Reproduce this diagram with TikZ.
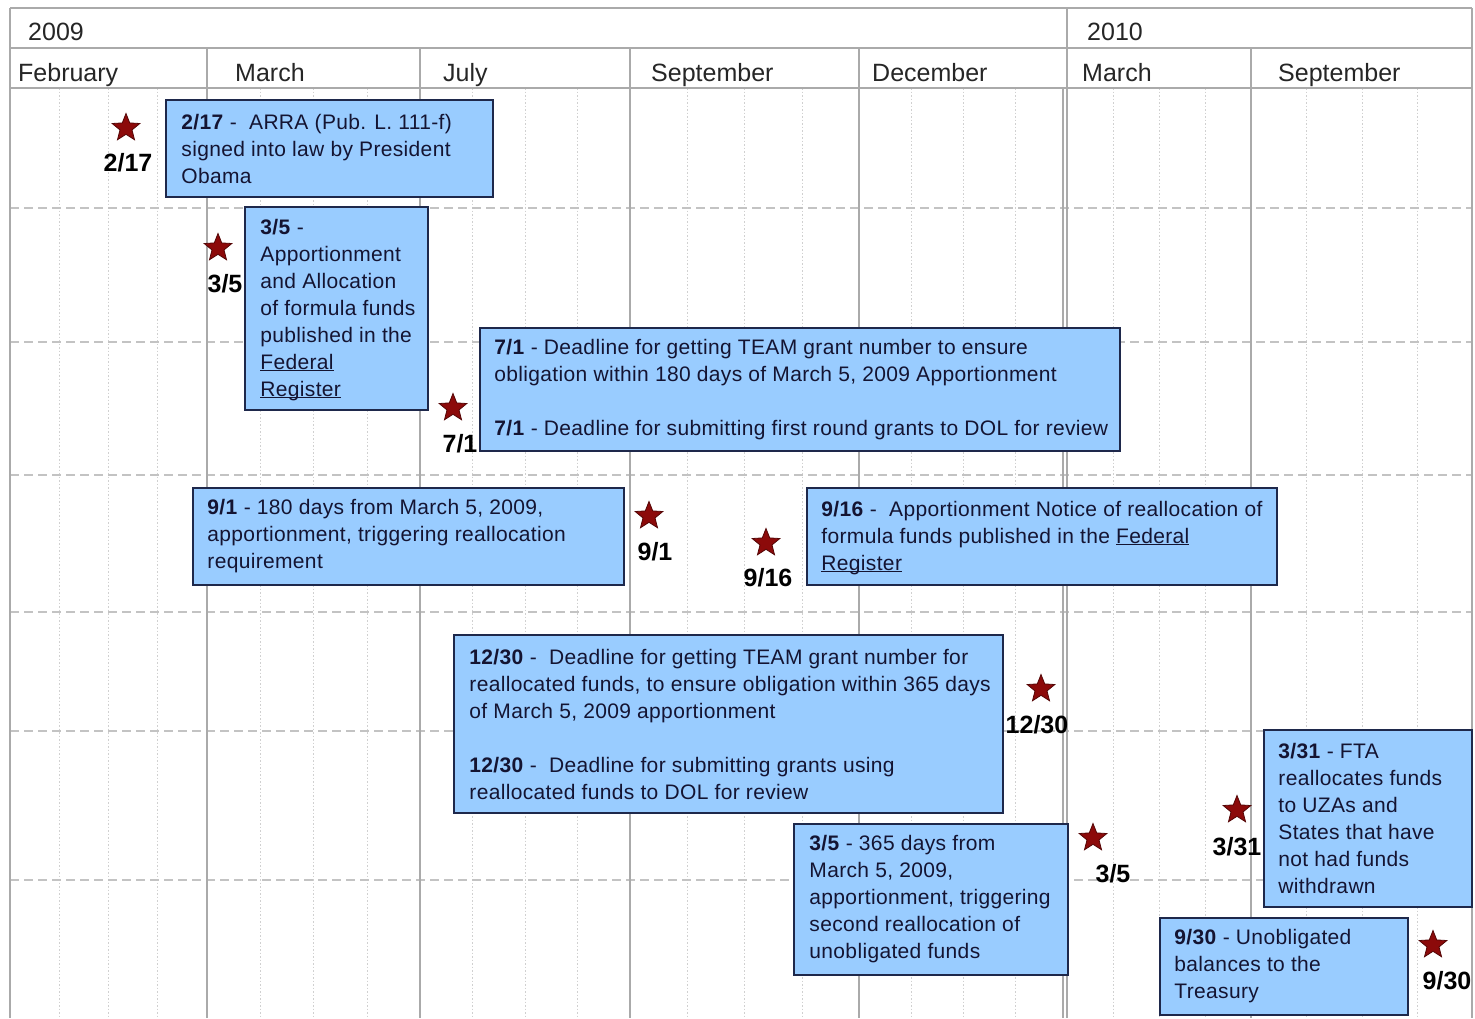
\documentclass[tikz,border=0pt]{standalone}
\usepackage{fontspec}
\setmainfont{Liberation Sans}
\newfontfamily\evfont[LetterSpace=1.6]{Liberation Sans}
\usetikzlibrary{shapes.geometric}
\definecolor{boxfill}{RGB}{153,204,255}
\definecolor{boxline}{RGB}{30,40,75}
\definecolor{boxtext}{RGB}{20,20,50}
\definecolor{starred}{RGB}{140,10,10}
\definecolor{gridsolid}{RGB}{170,170,170}
\definecolor{griddash}{RGB}{195,195,195}
\definecolor{griddot}{RGB}{208,208,208}
\newcommand\ulword[1]{\underline{\smash{#1}}}
\begin{document}
\begin{tikzpicture}[x=1pt,y=-1pt,
 evbox/.style={draw=boxline, line width=1.5pt, fill=boxfill, inner sep=0pt},
 evtext/.style={font=\evfont\fontsize{21}{27}\selectfont, text=boxtext, align=left, inner sep=0pt, anchor=west},
 evstar/.style={star, star points=5, star point ratio=2.3, minimum size=29pt, inner sep=0pt, fill=starred, draw=starred!60!black, line width=0.8pt},
 evlabel/.style={font=\fontsize{25}{28}\selectfont\bfseries, inner sep=0pt},
 hdr/.style={font=\fontsize{25}{28}\selectfont, anchor=base west, inner sep=0pt, text=black!85},
 solidline/.style={draw=gridsolid, line width=1.2pt},
 dashline/.style={draw=griddash, line width=1.2pt, dash pattern=on 9pt off 5pt},
 dotline/.style={draw=griddot, line width=1pt, dash pattern=on 1.5pt off 2pt}]

\useasboundingbox[fill=white] (0,0) rectangle (1475,1018);

% grid: dotted verticals
\foreach \x in {59,108,157,260,313,367,472,525,577,687,744,802,911,963,1015,1113,1159,1205,1306,1362,1417}
  \draw[dotline] (\x,88) -- (\x,1018);
% dashed horizontals
\foreach \y in {208,342,475,612,731,880}
  \draw[dashline] (10,\y) -- (1472,\y);
% solid lines
\draw[solidline] (10,8) -- (1472,8);
\draw[solidline] (10,48) -- (1472,48);
\draw[solidline] (10,88) -- (1472,88);
\draw[solidline] (10,8) -- (10,1018);
\draw[solidline] (1472,8) -- (1472,1018);
\foreach \x in {207,420,630,859,1251}
  \draw[solidline] (\x,48) -- (\x,1018);
\draw[solidline] (1067,8) -- (1067,1018);
\draw[solidline] (1063,88) -- (1063,1018);

% header
\node[hdr] (y2009) at (28,40) {2009};
\node[hdr] (y2010) at (1087,40) {2010};
\node[hdr] (mfeb) at (18,81) {February};
\node[hdr] (mmar) at (235,81) {March};
\node[hdr] (mjul) at (443,81) {July};
\node[hdr] (msep) at (651,81) {September};
\node[hdr] (mdec) at (872,81) {December};
\node[hdr] (mmar2) at (1082,81) {March};
\node[hdr] (msep2) at (1278,81) {September};

% boxes
\node[evbox, minimum width=327pt, minimum height=97pt] (b1) at (329.5,148.5) {};
\node[evtext] (t1) at ([xshift=16pt]b1.west) {\textbf{2/17} -~ ARRA (Pub. L. 111-f)\\ signed into law by President\\ Obama};

\node[evbox, minimum width=183pt, minimum height=203pt] (b2) at (336.5,308.5) {};
\node[evtext] (t2) at ([xshift=16pt]b2.west) {\textbf{3/5} -\\ Apportionment\\ and Allocation\\ of formula funds\\ published in the\\ \ulword{Federal}\\ \ulword{Register}};

\node[evbox, minimum width=640pt, minimum height=123pt] (b3) at (800,389.5) {};
\node[evtext] (t3) at ([xshift=15pt]b3.west) {\textbf{7/1} - Deadline for getting TEAM grant number to ensure\\ obligation within 180 days of March 5, 2009 Apportionment\\[27pt] \textbf{7/1} - Deadline for submitting first round grants to DOL for review};

\node[evbox, minimum width=431pt, minimum height=97pt] (b4) at (408.5,536.5) {};
\node[evtext] (t4) at ([xshift=15pt]b4.west) {\textbf{9/1} - 180 days from March 5, 2009,\\ apportionment, triggering reallocation\\ requirement};

\node[evbox, minimum width=470pt, minimum height=97pt] (b5) at (1042,536.5) {};
\node[evtext] (t5) at ([xshift=15pt]b5.west) {\textbf{9/16} -~ Apportionment Notice of reallocation of\\ formula funds published in the \ulword{Federal}\\ \ulword{Register}};

\node[evbox, minimum width=549pt, minimum height=178pt] (b6) at (728.5,724) {};
\node[evtext] (t6) at ([xshift=16pt]b6.west) {\textbf{12/30} -~ Deadline for getting TEAM grant number for\\ reallocated funds, to ensure obligation within 365 days\\ of March 5, 2009 apportionment\\[27pt] \textbf{12/30} -~ Deadline for submitting grants using\\ reallocated funds to DOL for review};

\node[evbox, minimum width=274pt, minimum height=151pt] (b7) at (931,899.5) {};
\node[evtext] (t7) at ([xshift=16pt]b7.west) {\textbf{3/5} - 365 days from\\ March 5, 2009,\\ apportionment, triggering\\ second reallocation of\\ unobligated funds};

\node[evbox, minimum width=208pt, minimum height=177pt] (b8) at (1368,818.5) {};
\node[evtext] (t8) at ([xshift=15pt]b8.west) {\textbf{3/31} - FTA\\ reallocates funds\\ to UZAs and\\ States that have\\ not had funds\\ withdrawn};

\node[evbox, minimum width=248pt, minimum height=97pt] (b9) at (1284,966.5) {};
\node[evtext] (t9) at ([xshift=15pt]b9.west) {\textbf{9/30} - Unobligated\\ balances to the\\ Treasury};

% stars and labels
\node[evstar] (s1) at (126,128) {};
\node[evlabel] (l1) at (128,163) {2/17};
\node[evstar] (s2) at (218,248) {};
\node[evlabel] (l2) at (225,284) {3/5};
\node[evstar] (s3) at (453,408) {};
\node[evlabel] (l3) at (460,444) {7/1};
\node[evstar] (s4) at (649,516) {};
\node[evlabel] (l4) at (655,552) {9/1};
\node[evstar] (s5) at (766,543) {};
\node[evlabel] (l5) at (768,578) {9/16};
\node[evstar] (s6) at (1041,689) {};
\node[evlabel] (l6) at (1037,725) {12/30};
\node[evstar] (s7) at (1093,838) {};
\node[evlabel] (l7) at (1113,874) {3/5};
\node[evstar] (s8) at (1237,810) {};
\node[evlabel] (l8) at (1237,847) {3/31};
\node[evstar] (s9) at (1433,945) {};
\node[evlabel] (l9) at (1447,981) {9/30};
\end{tikzpicture}
\end{document}
